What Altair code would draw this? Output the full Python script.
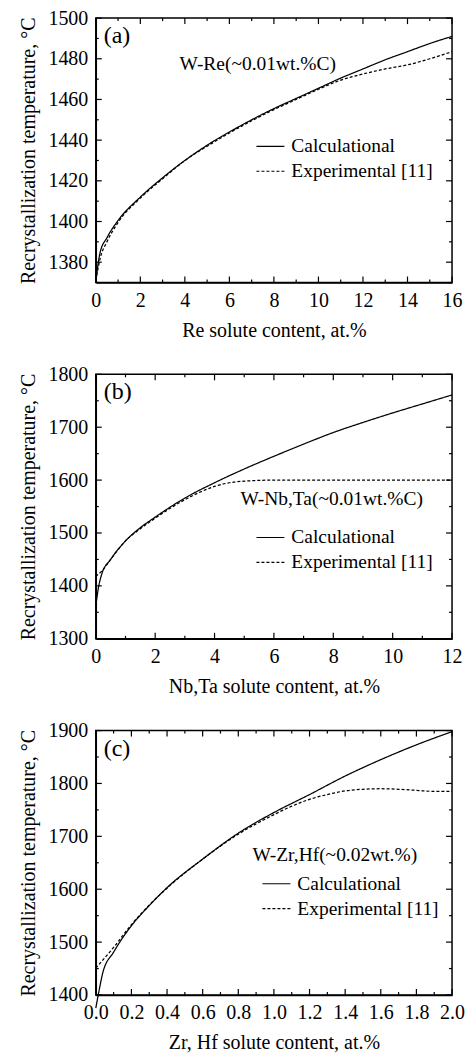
import altair as alt
import pandas as pd

FONT = "Liberation Serif"
W, H = 357, 265
SERIES = ["Calculational", "Experimental [11]"]
YTITLE = "Recrystallization temperature, °C"

# ---------- panel (a): W-Re ----------
a_x_calc = [0, 0.1, 0.2, 0.5, 1, 2, 3, 4, 5, 6, 7, 8, 9, 10, 11, 12, 13, 14, 15, 16]
a_calc = [1370, 1379, 1385, 1392, 1400.5, 1412, 1421.5, 1430, 1437.5, 1444, 1450,
          1455.5, 1460.5, 1465.5, 1470.5, 1475, 1479.5, 1483.5, 1487.5, 1491]
a_x_exp = [0, 0.1, 0.2, 0.5, 1, 2, 3, 4, 5, 6, 7, 8, 9, 10, 11, 12, 13, 14, 15, 16]
a_exp = [1371, 1377, 1382, 1390, 1399.5, 1411.5, 1421, 1430, 1437, 1443.5, 1449.5,
         1455, 1460, 1465, 1469.5, 1472.5, 1475, 1477, 1480, 1483.5]
a_xmaj = [0, 2, 4, 6, 8, 10, 12, 14, 16]
a_xmin = [1, 3, 5, 7, 9, 11, 13, 15]
a_ymaj = [1380, 1400, 1420, 1440, 1460, 1480, 1500]
a_ymin = [1370, 1390, 1410, 1430, 1450, 1470, 1490]

# ---------- panel (b): W-Nb,Ta ----------
b_x_calc = [0, 0.1, 0.2, 0.5, 1, 1.5, 2, 3, 4, 5, 6, 7, 8, 9, 10, 11, 12]
b_calc = [1362, 1400, 1422, 1450, 1485, 1510, 1530, 1566, 1595, 1621, 1645, 1668,
          1690, 1709, 1727, 1744, 1761]
b_x_exp = [0, 0.2, 0.5, 1, 1.5, 2, 3, 3.5, 4, 4.5, 5, 6, 7, 8, 9, 10, 11, 12]
b_exp = [1418, 1428, 1450, 1485, 1508, 1528, 1563, 1577, 1588, 1595, 1598, 1600,
         1600, 1600, 1600, 1600, 1600, 1600]
b_xmaj = [0, 2, 4, 6, 8, 10, 12]
b_xmin = [1, 3, 5, 7, 9, 11]
b_ymaj = [1300, 1400, 1500, 1600, 1700, 1800]
b_ymin = [1350, 1450, 1550, 1650, 1750]

# ---------- panel (c): W-Zr,Hf ----------
c_x_calc = [0, 0.02, 0.04, 0.1, 0.2, 0.3, 0.4, 0.6, 0.8, 1.0, 1.2, 1.4, 1.6, 1.8, 2.0]
c_calc = [1375, 1411, 1443, 1481, 1531, 1569, 1603, 1657, 1706, 1745, 1779, 1814,
          1845, 1873, 1898]
c_x_exp = [0, 0.1, 0.2, 0.3, 0.4, 0.6, 0.8, 1.0, 1.1, 1.2, 1.3, 1.4, 1.5, 1.6, 1.7,
           1.8, 1.9, 2.0]
c_exp = [1451, 1490, 1533, 1570, 1602, 1657, 1704, 1741, 1757, 1770, 1779, 1786,
         1789, 1790, 1789, 1787, 1785, 1785]
c_xmaj = [0.0, 0.2, 0.4, 0.6, 0.8, 1.0, 1.2, 1.4, 1.6, 1.8, 2.0]
c_xmin = [0.1, 0.3, 0.5, 0.7, 0.9, 1.1, 1.3, 1.5, 1.7, 1.9]
c_ymaj = [1400, 1500, 1600, 1700, 1800, 1900]
c_ymin = [1450, 1550, 1650, 1750, 1850]


def panel(xc, yc, xe, ye, xdom, ydom, xmaj, xmin_, ymaj, ymin_, xtitle, xfmt,
          tag, note, note_xy, leg_xy):
    df = pd.DataFrame({
        "x": xc + xe,
        "y": yc + ye,
        "s": [SERIES[0]] * len(xc) + [SERIES[1]] * len(xe),
    })
    xs = alt.Scale(domain=xdom, nice=False, zero=False)
    ys = alt.Scale(domain=ydom, nice=False, zero=False)
    common = dict(labelFont=FONT, labelFontSize=20, titleFont=FONT,
                  titleFontSize=20, labelColor="black", titleColor="black")
    xax = alt.Axis(values=xmaj, format=xfmt, title=xtitle, titlePadding=10, **common)
    yax = alt.Axis(values=ymaj, format="d", title=YTITLE, titlePadding=9, **common)

    lines = alt.Chart(df).mark_line(
        color="black", strokeWidth=1.25, interpolate="monotone", clip=False
    ).encode(
        x=alt.X("x:Q", scale=xs, axis=xax),
        y=alt.Y("y:Q", scale=ys, axis=yax),
        strokeDash=alt.StrokeDash(
            "s:N",
            scale=alt.Scale(domain=SERIES, range=[[1, 0], [3, 2]]),
            legend=alt.Legend(
                orient="none", legendX=leg_xy[0], legendY=leg_xy[1], title=None,
                symbolType="stroke", symbolSize=784, symbolStrokeWidth=1.2,
                symbolStrokeColor="black", labelFont=FONT, labelFontSize=19.5,
                labelColor="black", labelOffset=6, clipHeight=25, rowPadding=0,
                padding=0,
            ),
        ),
    )

    layers = [lines]
    for vals, ln in ((xmaj, 6), (xmin_, 3)):
        tdf = pd.DataFrame({"x": vals})
        for y0, y1 in ((H, H - ln), (0, ln)):
            layers.append(
                alt.Chart(tdf).mark_rule(color="black", strokeWidth=1.2).encode(
                    x=alt.X("x:Q", scale=xs, axis=xax),
                    y=alt.value(y0), y2=alt.value(y1)))
    for vals, ln in ((ymaj, 6), (ymin_, 3)):
        tdf = pd.DataFrame({"y": vals})
        for x0, x1 in ((0, ln), (W, W - ln)):
            layers.append(
                alt.Chart(tdf).mark_rule(color="black", strokeWidth=1.2).encode(
                    y=alt.Y("y:Q", scale=ys, axis=yax),
                    x=alt.value(x0), x2=alt.value(x1)))

    layers.append(
        alt.Chart(pd.DataFrame({"t": [tag]})).mark_text(
            font=FONT, fontSize=24, align="left", baseline="middle", color="black"
        ).encode(x=alt.value(8), y=alt.value(18), text="t:N"))
    layers.append(
        alt.Chart(pd.DataFrame({"t": [note]})).mark_text(
            font=FONT, fontSize=19.5, align="left", baseline="middle", color="black"
        ).encode(x=alt.value(note_xy[0]), y=alt.value(note_xy[1]), text="t:N"))

    return alt.layer(*layers).properties(width=W, height=H)


pa = panel(a_x_calc, a_calc, a_x_exp, a_exp, [0, 16], [1370, 1500],
           a_xmaj, a_xmin, a_ymaj, a_ymin, "Re solute content, at.%", "d",
           "(a)", "W-Re(~0.01wt.%C)", (84, 46), (160, 116))
pb = panel(b_x_calc, b_calc, b_x_exp, b_exp, [0, 12], [1300, 1800],
           b_xmaj, b_xmin, b_ymaj, b_ymin, "Nb,Ta solute content, at.%", "d",
           "(b)", "W-Nb,Ta(~0.01wt.%C)", (145, 125), (160, 151))
pc = panel(c_x_calc, c_calc, c_x_exp, c_exp, [0, 2], [1400, 1900],
           c_xmaj, c_xmin, c_ymaj, c_ymin, "Zr, Hf solute content, at.%", ".1f",
           "(c)", "W-Zr,Hf(~0.02wt.%)", (157, 125), (166, 141))

chart = alt.vconcat(pa, pb, pc, spacing=92, bounds="flush").resolve_scale(
    strokeDash="independent"
).properties(
    padding={"left": 18, "top": 6, "right": 0, "bottom": 0}
).configure_view(
    stroke="black", strokeWidth=1.5
).configure_axis(
    grid=False, ticks=False, tickSize=0, domain=True, domainColor="black",
    domainWidth=1.5, labelFont=FONT, labelFontSize=20, labelColor="black",
    labelPadding=8, labelOverlap=False, labelFlush=False, titleFont=FONT,
    titleFontSize=20, titleFontWeight="normal", titleColor="black",
)

chart.save("out.html", embed_options={"renderer": "svg", "actions": False})
